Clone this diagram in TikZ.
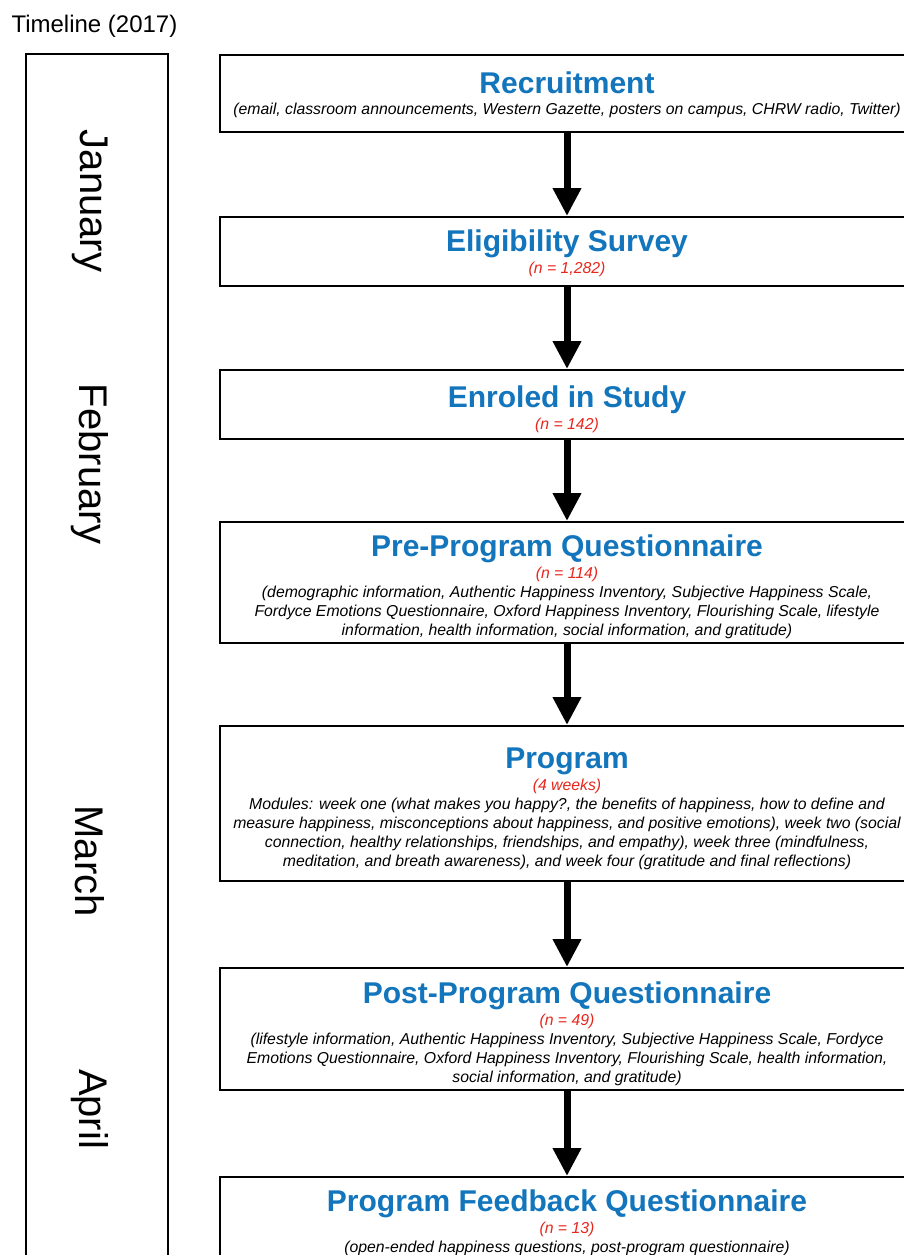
\documentclass[tikz,border=0pt]{standalone}
\usepackage{fontspec}
\setmainfont{Liberation Sans}
\usetikzlibrary{arrows.meta}
\definecolor{stageblue}{HTML}{1375BC}
\definecolor{countred}{HTML}{E8261C}
\newcommand{\stagetitle}[1]{{\fontsize{30}{30}\selectfont\bfseries\upshape\color{stageblue}\rule{0pt}{31pt}#1}}
\newcommand{\samplesize}[1]{{\color{countred}#1}}
\tikzset{
  stage/.style={draw, line width=1.6pt, minimum width=694pt, anchor=north,
    align=center, inner sep=0pt, font=\fontsize{15.8}{19}\selectfont\itshape},
  flow/.style={line width=7pt, -{Triangle[width=27pt,length=28pt]}},
  month/.style={rotate=-90, font=\fontsize{40}{40}\selectfont}
}
\begin{document}
\begin{tikzpicture}[x=1pt, y=-1pt]
  \clip (0,0) rectangle (904,1255);
  \fill[white] (0,0) rectangle (904,1255);

  % Timeline
  \node[anchor=base west, font=\fontsize{24}{24}\selectfont] (tltitle) at (8,33) {Timeline (2017)};
  \node[draw, line width=1.6pt, anchor=north west, minimum width=142pt, minimum height=1240pt] (tl) at (25,53) {};
  \node[month] (jan) at (90,201) {January};
  \node[month] (feb) at (90,464) {February};
  \node[month] (mar) at (90,861) {March};
  \node[month] (apr) at (90,1109) {April};

  % Stages
  \node[stage, minimum height=77pt] (rec) at (567,54)
    {\stagetitle{Recruitment}\\[2pt]
     (email, classroom announcements, Western Gazette, posters on campus, CHRW radio, Twitter)\rule[-9pt]{0pt}{9pt}};
  \node[stage, minimum height=69pt] (elig) at (567,216)
    {\stagetitle{Eligibility Survey}\\[3pt]
     \samplesize{(n = 1,282)}\rule[-8pt]{0pt}{8pt}};
  \node[stage, minimum height=69pt] (enrol) at (567,369)
    {\stagetitle{Enroled in Study}\\[3pt]
     \samplesize{(n = 142)}};
  \node[stage, minimum height=121pt] (pre) at (567,521)
    {\stagetitle{Pre-Program Questionnaire}\\[3pt]
     \samplesize{(n = 114)}\\
     (demographic information, Authentic Happiness Inventory, Subjective Happiness Scale,\\
     Fordyce Emotions Questionnaire, Oxford Happiness Inventory, Flourishing Scale, lifestyle\\
     information, health information, social information, and gratitude)};
  \node[stage, minimum height=155pt] (prog) at (567,725)
    {\stagetitle{Program}\\[3pt]
     \samplesize{(4 weeks)}\\
     Modules: week one (what makes you happy?, the benefits of happiness, how to define and\\
     measure happiness, misconceptions about happiness, and positive emotions), week two (social\\
     connection, healthy relationships, friendships, and empathy), week three (mindfulness,\\
     meditation, and breath awareness), and week four (gratitude and final reflections)};
  \node[stage, minimum height=122pt] (post) at (567,967)
    {\stagetitle{Post-Program Questionnaire}\\[3pt]
     \samplesize{(n = 49)}\\
     (lifestyle information, Authentic Happiness Inventory, Subjective Happiness Scale, Fordyce\\
     Emotions Questionnaire, Oxford Happiness Inventory, Flourishing Scale, health information,\\
     social information, and gratitude)};
  \node[stage, minimum height=82pt] (feed) at (567,1176)
    {\stagetitle{Program Feedback Questionnaire}\\[3pt]
     \samplesize{(n = 13)}\\
     (open-ended happiness questions, post-program questionnaire)};

  % Arrows
  \draw[flow] (rec.south) -- (elig.north);
  \draw[flow] (elig.south) -- (enrol.north);
  \draw[flow] (enrol.south) -- (pre.north);
  \draw[flow] (pre.south) -- (prog.north);
  \draw[flow] (prog.south) -- (post.north);
  \draw[flow] (post.south) -- (feed.north);
\end{tikzpicture}
\end{document}
